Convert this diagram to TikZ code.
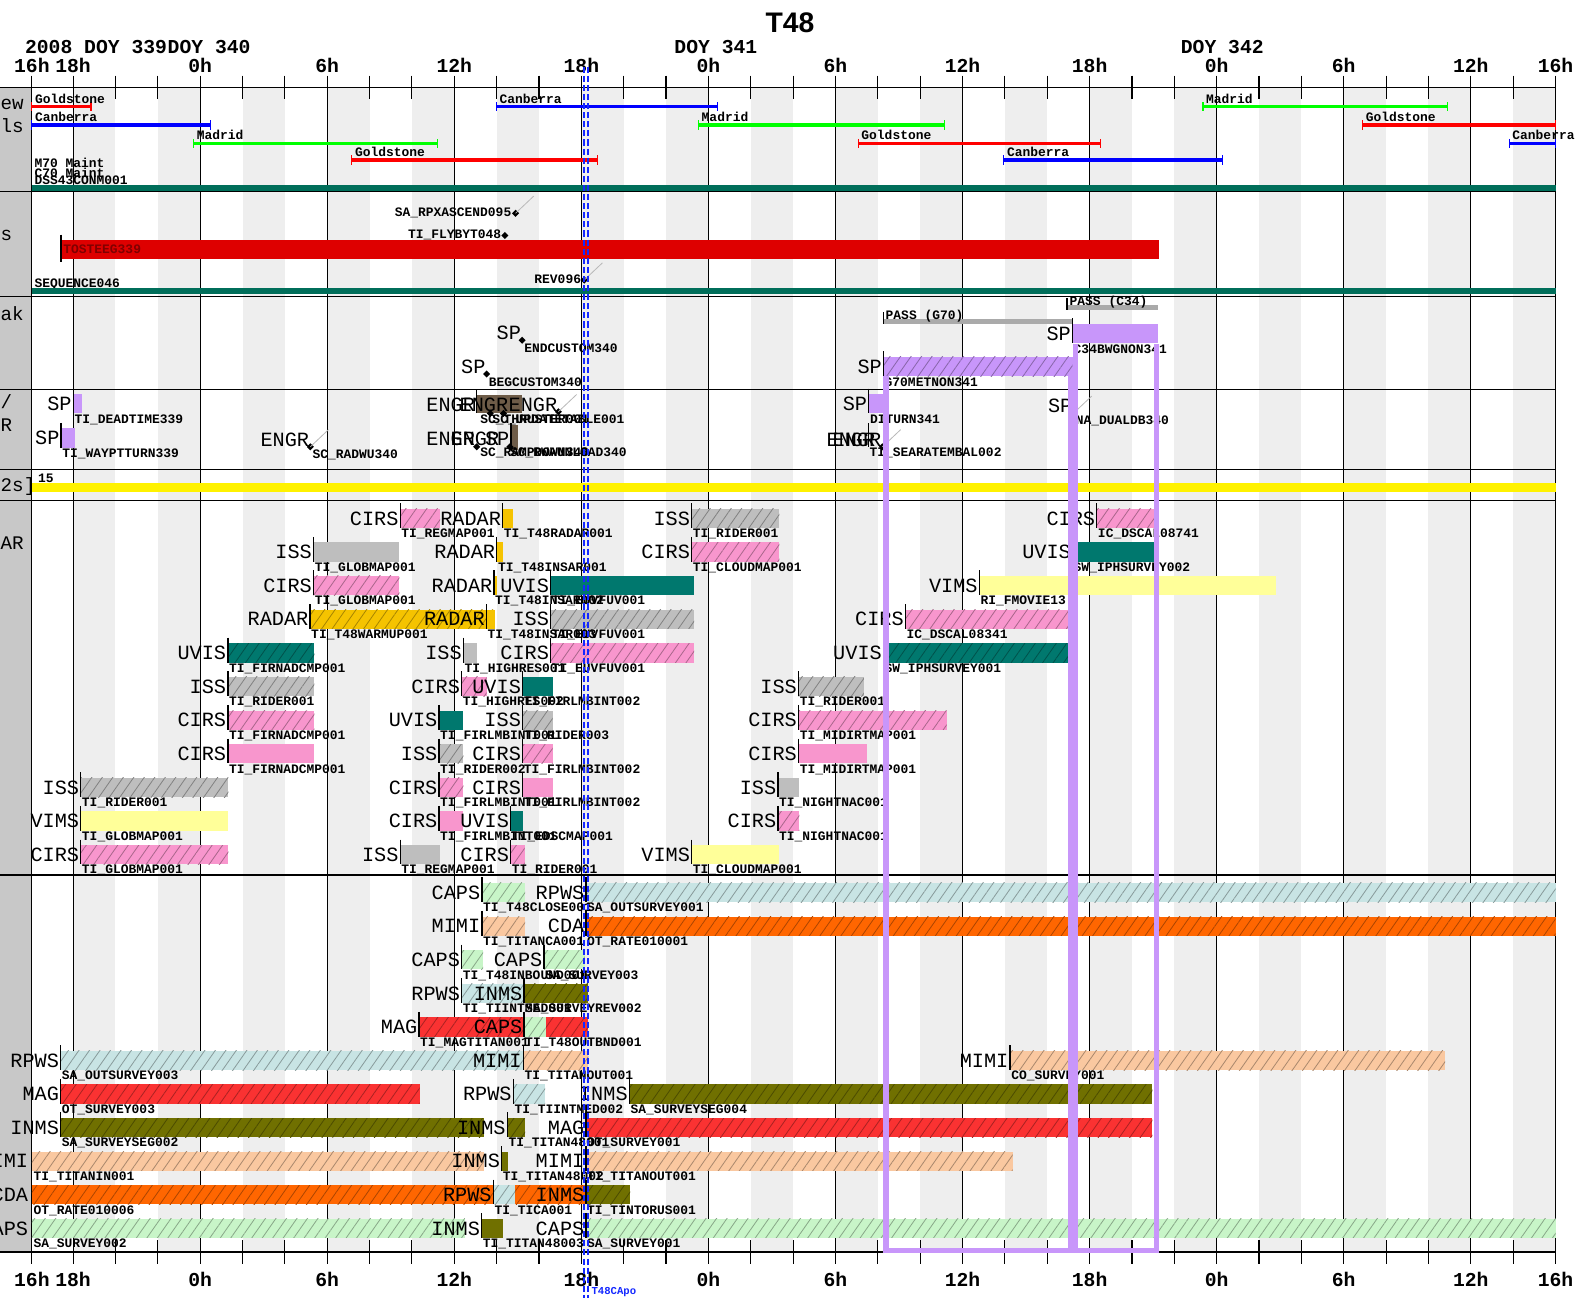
\documentclass[tikz,border=0pt]{standalone}
\usepackage{fontspec}
\usetikzlibrary{patterns.meta}
\newfontfamily\monof{Liberation Mono}
\newfontfamily\sansf{Liberation Sans}
\definecolor{cirs}{RGB}{248,150,205}
\definecolor{iss}{RGB}{190,190,190}
\definecolor{radar}{RGB}{245,195,0}
\definecolor{uvis}{RGB}{0,120,110}
\definecolor{vims}{RGB}{255,255,153}
\definecolor{purp}{RGB}{200,150,250}
\definecolor{caps}{RGB}{200,245,200}
\definecolor{rpws}{RGB}{200,228,228}
\definecolor{mimi}{RGB}{250,200,160}
\definecolor{cda}{RGB}{255,102,0}
\definecolor{mag}{RGB}{250,50,50}
\definecolor{inms}{RGB}{112,112,0}
\definecolor{seqteal}{RGB}{0,110,90}
\definecolor{band}{RGB}{238,238,238}
\definecolor{colgray}{RGB}{200,200,200}
\definecolor{bigred}{RGB}{222,0,0}
\definecolor{engr}{RGB}{110,92,72}
\definecolor{passg}{RGB}{170,170,170}
\definecolor{dsnr}{RGB}{255,0,0}
\definecolor{dsnb}{RGB}{0,0,255}
\definecolor{dsng}{RGB}{0,255,0}
\definecolor{calblue}{RGB}{20,40,255}
\newcommand\fbig{\monof\fontsize{20}{20}\selectfont}
\newcommand\fsm{\monof\bfseries\fontsize{12.8}{12.8}\selectfont}
\newcommand\fax{\monof\bfseries\fontsize{19.5}{19.5}\selectfont}
\newcommand\fcol{\monof\fontsize{19}{19}\selectfont}
\tikzset{
  bl/.style={font=\fbig, anchor=east, inner sep=0pt},
  sl/.style={font=\fsm, anchor=west, inner sep=0pt},
  tk/.style={line width=1.3pt, black},
  gridl/.style={line width=1.1pt, black},
  hatch/.style={postaction={pattern={Lines[angle=55,distance=8.5pt,line width=0.8pt]}, pattern color=#1!68!black}},
  nohatch/.style={},
  axlab/.style={font=\fax, inner sep=0pt},
  collab/.style={font=\fcol, anchor=east, inner sep=0pt},
}
% activity bar with start tick: label, tick x, end x, y, colour, hatch, name
\newcommand\actv[7]{%
  \fill[fill=#5,#6=#5] (#2,#4-9.5) rectangle (#3,#4+9.5);
  \draw[tk] (#2,#4-15) -- (#2,#4+9.5);
  \node[bl] at (#2-1.5,#4) {#1};
  \node[sl] at (#2+1,#4+15.5) {#7};}
% activity bar starting before the window: label, end x, y, colour, hatch, name
\newcommand\actn[6]{%
  \fill[fill=#4,#5=#4] (31.5,#3-9.5) rectangle (#2,#3+9.5);
  \node[bl] at (28,#3) {#1};
  \node[sl] at (33,#3+15.5) {#6};}
% point event: label, x, y, name
\newcommand\pev[4]{%
  \fill (#2,#3-3.5) -- (#2+3.5,#3) -- (#2,#3+3.5) -- (#2-3.5,#3) -- cycle;
  \node[bl] at (#2-1,#3-7) {#1};
  \node[sl] at (#2+2,#3+8) {#4};}
\newcommand\dmd[2]{\fill (#1,#2-3.5) -- (#1+3.5,#2) -- (#1,#2+3.5) -- (#1-3.5,#2) -- cycle;}
\newcommand\dline[2]{\draw[gray!55,line width=0.8pt] (#1,#2) -- (#1+18,#2-17);}
% DSN pass: x1, x2, y, colour, label
\newcommand\dsn[5]{%
  \draw[#4,line width=3.6pt] (#1,#3) -- (#2,#3);
  \draw[#4,line width=1.2pt] (#1,#3-4.5) -- (#1,#3+4.5) (#2,#3-4.5) -- (#2,#3+4.5);
  \node[sl] at (#1+3,#3-8) {#5};}
\begin{document}
\begin{tikzpicture}[x=1pt,y=-1pt]
\useasboundingbox (0,0) rectangle (1568,1284);
\fill[white] (0,0) rectangle (1568,1284);
% background bands
\foreach \h in {-6,-2,...,62}{\fill[band] ({198+20.95*\h},86.4) rectangle ({198+20.95*(\h+2)},1238.6);}
\fill[colgray] (0,86.4) rectangle (31.5,1238.6);
% grid
\foreach \h in {-6,0,...,60}{\draw[gridl] ({198+20.95*\h},86.4) -- ({198+20.95*\h},1238.6);}
\draw[gridl] (31.5,86.4) -- (31.5,1238.6) (1539,86.4) -- (1539,1238.6);
\foreach \y in {86.4,189.6,293.5,385.2,464.3,495.3,865.6,1238.6}{\draw[gridl] (0,\y) -- (1539,\y);}
\foreach \h in {-6,-4,...,64}{\draw[gridl] ({198+20.95*\h},74.9) -- ({198+20.95*\h},97.9) ({198+20.95*\h},1227) -- ({198+20.95*\h},1250);}
\draw[gridl] (31.5,74.9) -- (31.5,97.9) (31.5,1227) -- (31.5,1250);
% axis labels
\foreach \h/\t in {-6/18h,0/0h,6/6h,12/12h,18/18h,24/0h,30/6h,36/12h,42/18h,48/0h,54/6h,60/12h,64/16h}{
  \node[axlab] at ({198+20.95*\h},64.3) {\t};
  \node[axlab] at ({198+20.95*\h},1265.5) {\t};}
\node[axlab] (s16t) at (31.5,64.3) {16h};
\node[axlab] (s16b) at (31.5,1265.5) {16h};
\node[axlab,anchor=west] (d339) at (24.6,46.2) {2008 DOY 339};
\node[axlab,anchor=west] (d340) at (165.7,46.2) {DOY 340};
\node[axlab,anchor=west] (d341) at (667,46.2) {DOY 341};
\node[axlab,anchor=west] (d342) at (1168,46.2) {DOY 342};
\node[font=\sansf\bfseries\fontsize{28}{28}\selectfont, inner sep=0pt] (title) at (781.5,23) {T48};
% left column labels (the visible ends of cut-off row titles)
\node[collab,anchor=west] at (0.5,103) {ew};
\node[collab,anchor=west] at (0.5,124) {ls};
\node[collab,anchor=west] at (0.5,233) {s};
\node[collab,anchor=west] at (0.5,310) {ak};
\node[collab,anchor=west] at (0.5,397) {/};
\node[collab,anchor=west] at (0.5,421) {R};
\node[collab,anchor=west] at (0.5,481) {2s]};
\node[collab,anchor=west] at (0.5,537) {AR};

% ===== section 1: DSN
\dsn{31.5}{90}{105.5}{dsnr}{Goldstone}
\dsn{31.5}{208}{123.7}{dsnb}{Canberra}
\dsn{191.5}{433}{141.8}{dsng}{Madrid}
\dsn{348}{591}{158.3}{dsnr}{Goldstone}
\dsn{491}{709.8}{105.5}{dsnb}{Canberra}
\dsn{691}{934}{123.7}{dsng}{Madrid}
\dsn{849}{1089}{141.8}{dsnr}{Goldstone}
\dsn{993}{1209}{158.3}{dsnb}{Canberra}
\dsn{1190}{1432}{105.5}{dsng}{Madrid}
\dsn{1348}{1539}{123.7}{dsnr}{Goldstone}
\dsn{1493}{1539}{141.8}{dsnb}{Canberra}
\node[sl] at (34,161.6) {M70 Maint};
\node[sl] at (34,171.5) {C70 Maint};
\node[sl] at (34,178.7) {DSS43CONM001};
\fill[seqteal] (31.5,183) rectangle (1539,189);

% ===== section 2
\fill[bigred] (60.5,237.4) rectangle (1146.7,256.3);
\draw[tk] (60.5,232) -- (60.5,259.5);
\node[sl,text=red!50!black] at (62.5,246.5) {TOSTEEG339};
\node[sl,anchor=east] at (506,211) {SA\_RPXASCEND095};
\dmd{510}{211}\dline{510}{211}
\node[sl,anchor=east] at (496,232.5) {TI\_FLYBYT048};
\dmd{499.5}{233}
\node[sl,anchor=east] at (575,276) {REV096};
\dmd{578}{277}\dline{578}{277}
\node[sl] at (34,281) {SEQUENCE046};
\fill[seqteal] (31.5,284.5) rectangle (1539,290.5);

% ===== section 3
\pev{SP}{516.6}{336.6}{ENDCUSTOM340}
\pev{SP}{481.4}{370}{BEGCUSTOM340}
\draw[passg,line width=5pt] (874,318) -- (1061,318);
\draw[tk] (874,309) -- (874,321);
\node[sl] at (876,312.6) {PASS (G70)};
\draw[passg,line width=5pt] (1055.5,304) -- (1146,304);
\draw[tk] (1055.5,295) -- (1055.5,307);
\node[sl] at (1058,298.5) {PASS (C34)};
\actv{SP}{1061}{1146}{330}{purp}{nohatch}{C34BWGNON341}
\actv{SP}{874}{1061}{362.5}{purp}{hatch}{G70METNON341}

% ===== section 4
\actv{SP}{72.5}{81}{399.5}{purp}{nohatch}{TI\_DEADTIME339}
\actv{SP}{60.5}{74}{433.3}{purp}{nohatch}{TI\_WAYPTTURN339}
\pev{ENGR}{307}{442}{SC\_RADWU340}\dline{307}{442}
\fill[engr] (471.6,391) rectangle (516,409);
\draw[tk] (471.6,385.8) -- (471.6,409);
\node[bl] at (470,400.7) {ENGR};
\node[bl] at (503,400.7) {ENGR};
\pev{ENGR}{552.4}{407.3}{}\dline{552.4}{407.3}
\dmd{485}{409}\dmd{498}{409}
\node[sl] at (475,415.5) {SC\_THRUSTER001};
\node[sl] at (487,415.5) {SC\_UPDATETABLE001};
\fill[engr] (505.5,420.5) rectangle (512.8,445.2);
\draw[tk] (505.5,418) -- (505.5,445.2);
\node[bl] at (470,433.7) {ENGR};
\node[bl] at (494,433.7) {ENGR};
\node[bl] at (504,433.7) {SP};
\dmd{471.6}{442}\dmd{504.5}{442}
\node[sl] at (475,448.5) {SC\_RAMPDOWN340};
\node[sl] at (504.5,448.5) {SC\_RWAUNLOAD340};
\actv{SP}{859.5}{877}{399.5}{purp}{nohatch}{DITURN341}
\node[bl] at (872,435) {ENGR};
\node[bl] at (866,435) {ENGR};
\draw[tk] (859,418.5) -- (859,442);
\dmd{873}{442}\dline{873}{442}
\node[sl] at (860,448.5) {TI\_SEARATEMBAL002};
\pev{SP}{1062}{408.8}{NA\_DUALDB340}\dline{1062}{408.8}

% ===== section 5
\node[sl] at (37.6,473) {15};
\fill[yellow] (31.5,477.5) rectangle (1539,486.7);

% ===== section 6
% row 1
\actv{CIRS}{395.9}{435.3}{512.8}{cirs}{hatch}{TI\_REGMAP001}
\actv{RADAR}{497.3}{507.2}{512.8}{radar}{nohatch}{TI\_T48RADAR001}
\actv{ISS}{684.3}{771}{512.8}{iss}{hatch}{TI\_RIDER001}
\actv{CIRS}{1085}{1146}{512.8}{cirs}{hatch}{IC\_DSCAL08741}
% row 2
\actv{ISS}{310.2}{395}{546.1}{iss}{nohatch}{TI\_GLOBMAP001}
\actv{RADAR}{491.5}{498}{546.1}{radar}{nohatch}{TI\_T48INSAR001}
\actv{CIRS}{684.3}{771}{546.1}{cirs}{hatch}{TI\_CLOUDMAP001}
\actv{UVIS}{1061}{1146}{546.1}{uvis}{nohatch}{SW\_IPHSURVEY002}
% row 3
\actv{CIRS}{310.2}{395}{579.3}{cirs}{hatch}{TI\_GLOBMAP001}
\actv{RADAR}{488.7}{492}{579.3}{radar}{nohatch}{TI\_T48INSAR002}
\actv{UVIS}{544.8}{686.6}{579.3}{uvis}{nohatch}{TI\_EUVFUV001}
\actv{VIMS}{968.8}{1262}{579.3}{vims}{nohatch}{RI\_FMOVIE13}
% row 4
\actv{RADAR}{306.7}{489.3}{612.6}{radar}{hatch}{TI\_T48WARMUP001}
\actv{RADAR}{481.2}{489.3}{612.6}{radar}{nohatch}{TI\_T48INSAR003}
\actv{ISS}{544.8}{686.6}{612.6}{iss}{hatch}{TI\_EUVFUV001}
\actv{CIRS}{895.7}{1061}{612.6}{cirs}{hatch}{IC\_DSCAL08341}
% row 5
\actv{UVIS}{225.4}{311}{645.9}{uvis}{hatch}{TI\_FIRNADCMP001}
\actv{ISS}{458.4}{472}{645.9}{iss}{nohatch}{TI\_HIGHRES001}
\actv{CIRS}{544.8}{686.6}{645.9}{cirs}{hatch}{TI\_EUVFUV001}
\actv{UVIS}{874}{1061}{645.9}{uvis}{hatch}{SW\_IPHSURVEY001}
% row 6
\actv{ISS}{225.4}{311}{679.2}{iss}{hatch}{TI\_RIDER001}
\actv{CIRS}{456.7}{481.5}{679.2}{cirs}{hatch}{TI\_HIGHRES002}
\actv{UVIS}{517}{546.8}{679.2}{uvis}{nohatch}{TI\_FIRLMBINT002}
\actv{ISS}{790}{854.5}{679.2}{iss}{hatch}{TI\_RIDER001}
% row 7
\actv{CIRS}{225.4}{311}{712.4}{cirs}{hatch}{TI\_FIRNADCMP001}
\actv{UVIS}{434.3}{458.4}{712.4}{uvis}{nohatch}{TI\_FIRLMBINT001}
\actv{ISS}{517}{546.8}{712.4}{iss}{hatch}{TI\_RIDER003}
\actv{CIRS}{790}{936.5}{712.4}{cirs}{hatch}{TI\_MIDIRTMAP001}
% row 8
\actv{CIRS}{225.4}{311}{745.7}{cirs}{nohatch}{TI\_FIRNADCMP001}
\actv{ISS}{434.3}{458.4}{745.7}{iss}{hatch}{TI\_RIDER002}
\actv{CIRS}{517}{546.8}{745.7}{cirs}{hatch}{TI\_FIRLMBINT002}
\actv{CIRS}{790}{857.2}{745.7}{cirs}{nohatch}{TI\_MIDIRTMAP001}
% row 9
\actv{ISS}{79.9}{226}{779}{iss}{hatch}{TI\_RIDER001}
\actv{CIRS}{434.3}{458.4}{779}{cirs}{hatch}{TI\_FIRLMBINT001}
\actv{CIRS}{517}{546.8}{779}{cirs}{nohatch}{TI\_FIRLMBINT002}
\actv{ISS}{769.6}{790.8}{779}{iss}{nohatch}{TI\_NIGHTNAC001}
% row 10
\actv{VIMS}{79.9}{226}{812.2}{vims}{nohatch}{TI\_GLOBMAP001}
\actv{CIRS}{434.3}{458.4}{812.2}{cirs}{nohatch}{TI\_FIRLMBINT001}
\actv{UVIS}{505.2}{517.7}{812.2}{uvis}{nohatch}{TI\_EDSCMAP001}
\actv{CIRS}{769.6}{790.8}{812.2}{cirs}{hatch}{TI\_NIGHTNAC001}
% row 11
\actv{CIRS}{79.9}{226}{845.5}{cirs}{hatch}{TI\_GLOBMAP001}
\actv{ISS}{395.9}{435.3}{845.5}{iss}{nohatch}{TI\_REGMAP001}
\actv{CIRS}{505.2}{519}{845.5}{cirs}{hatch}{TI\_RIDER001}
\actv{VIMS}{684.3}{771}{845.5}{vims}{nohatch}{TI\_CLOUDMAP001}

% ===== section 7
% row 1
\actv{CAPS}{476.8}{519.4}{883}{caps}{hatch}{TI\_T48CLOSE001}
\actv{RPWS}{579.7}{1539}{883}{rpws}{hatch}{SA\_OUTSURVEY001}
% row 2
\actv{MIMI}{476.8}{519.4}{916.2}{mimi}{hatch}{TI\_TITANCA001}
\actv{CDA}{579.7}{1539}{916.2}{cda}{hatch}{OT\_RATE010001}
% row 3
\actv{CAPS}{456.7}{478}{949.4}{caps}{hatch}{TI\_T48INBOUND001}
\actv{CAPS}{538.2}{578.7}{949.4}{caps}{hatch}{SA\_SURVEY003}
% row 4
\actv{RPWS}{456.7}{519.4}{982.7}{rpws}{hatch}{TI\_TIINTMED001}
\actv{INMS}{518.4}{582}{982.7}{inms}{hatch}{SA\_SURVEYREV002}
% row 5
\actv{MAG}{414.5}{582}{1015.9}{mag}{hatch}{TI\_MAGTITAN001}
\actv{CAPS}{518.4}{539.8}{1015.9}{caps}{hatch}{TI\_T48OUTBND001}
% row 6
\actv{RPWS}{60}{519.4}{1049.1}{rpws}{hatch}{SA\_OUTSURVEY003}
\actv{MIMI}{517.7}{582}{1049.1}{mimi}{hatch}{TI\_TITANOUT001}
\actv{MIMI}{999.2}{1429.6}{1049.1}{mimi}{hatch}{CO\_SURVEY001}
% row 7
\actv{MAG}{60}{415}{1082.3}{mag}{hatch}{OT\_SURVEY003}
\actv{RPWS}{507.8}{539.2}{1082.3}{rpws}{hatch}{TI\_TIINTMED002}
\actv{INMS}{622.6}{1140}{1082.3}{inms}{hatch}{SA\_SURVEYSEG004}
% row 8
\actv{INMS}{60}{478.8}{1115.5}{inms}{hatch}{SA\_SURVEYSEG002}
\actv{INMS}{501.9}{519.4}{1115.5}{inms}{hatch}{TI\_TITAN48001}
\actv{MAG}{579.7}{1140}{1115.5}{mag}{hatch}{OT\_SURVEY001}
% row 9
\actn{MIMI}{478.8}{1148.8}{mimi}{hatch}{TI\_TITANIN001}
\actv{INMS}{496.3}{503}{1148.8}{inms}{nohatch}{TI\_TITAN48002}
\actv{MIMI}{579.7}{1001.7}{1148.8}{mimi}{hatch}{TI\_TITANOUT001}
% row 10
\actn{CDA}{578.7}{1182}{cda}{hatch}{OT\_RATE010006}
\actv{RPWS}{488}{509.5}{1182}{rpws}{hatch}{TI\_TICA001}
\actv{INMS}{579.7}{623.3}{1182}{inms}{hatch}{TI\_TINTORUS001}
% row 11
\actn{CAPS}{460}{1215.2}{caps}{hatch}{SA\_SURVEY002}
\actv{INMS}{476.5}{498}{1215.2}{inms}{nohatch}{TI\_TITAN48003}
\actv{CAPS}{579.7}{1539}{1215.2}{caps}{hatch}{SA\_SURVEY001}

% ===== overlays
\draw[purp,line width=5.5pt] (876.5,372) -- (876.5,1237) -- (1059.5,1237) -- (1059.5,372);
\draw[purp,line width=5.5pt] (1064,340) -- (1064,1237) -- (1144,1237) -- (1144,340);
\draw[calblue,line width=1.8pt,dash pattern=on 6pt off 3pt] (577.5,66) -- (577.5,1284) (581.5,66) -- (581.5,1284);
\node[font=\monof\bfseries\fontsize{10.5}{10.5}\selectfont, text=calblue, anchor=west, inner sep=0pt] (ca) at (585,1278) {T48CApo};
\end{tikzpicture}
\end{document}
